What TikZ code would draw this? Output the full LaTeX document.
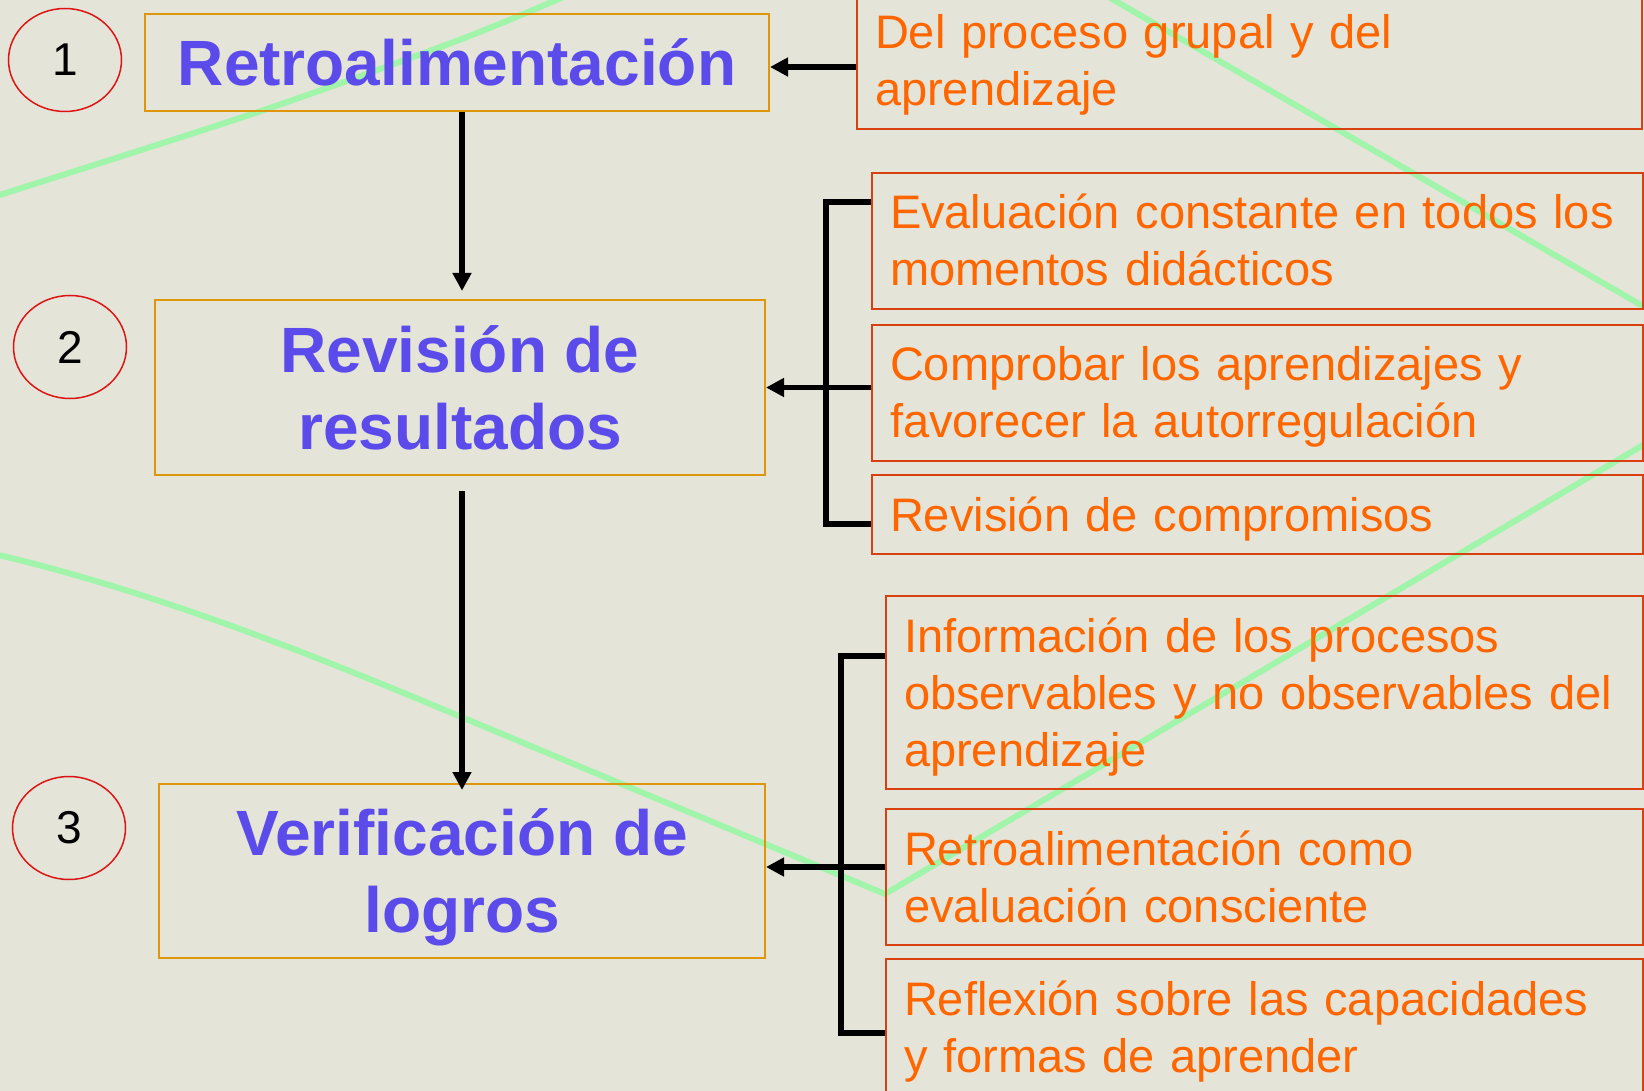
\documentclass[tikz,border=0pt]{standalone}
\usepackage{fontspec}
\setmainfont{Liberation Sans}
\usetikzlibrary{arrows.meta,shapes.geometric}
\definecolor{fondo}{RGB}{228,228,217}
\definecolor{azul}{RGB}{91,75,234}
\definecolor{naranja}{RGB}{255,102,0}
\definecolor{rojizo}{RGB}{217,64,15}
\definecolor{dorado}{RGB}{224,150,10}
\definecolor{verde}{RGB}{160,245,170}
\definecolor{circulo}{RGB}{220,20,20}
\newcommand\alto{\rule{0pt}{46pt}}
\newcommand\arriba{\rule{0pt}{56pt}}
\newcommand\abajo{\rule[-23pt]{0pt}{23pt}}

\begin{document}
\begin{tikzpicture}[x=1pt,y=-1pt,
  trazo/.style={verde,line width=6pt,line cap=round},
  titulo/.style={draw=dorado,line width=2pt,text=azul,inner sep=0pt,align=center,
    font=\fontsize{64}{77}\selectfont\bfseries},
  cuadro/.style={draw=rojizo,line width=2pt,text=naranja,anchor=north west,
    inner xsep=18pt,inner ysep=0pt,align=left,font=\fontsize{47}{57}\selectfont},
  numero/.style={ellipse,draw=circulo,line width=1.5pt,minimum width=113pt,
    minimum height=103pt,inner sep=0pt,font=\fontsize{46}{46}\selectfont},
  flecha/.style={line width=5.5pt,-{Triangle[length=18pt,width=18pt]}},
  corchete/.style={line width=6pt}]
\useasboundingbox (0,0) rectangle (1644,1091);
\fill[fondo] (0,0) rectangle (1644,1091);
\clip (0,0) rectangle (1644,1091);
\draw[trazo] plot[smooth] coordinates {(-10,198) (255,113) (459,40) (575,-8)};
\draw[trazo] (1100,-8) -- (1660,316);
\draw[trazo] (-10,553) .. controls (150,590) and (309,653) .. (459,716) -- (885,894) -- (1660,435);
\node[numero] (n1) at (65,60) {1};
\node[numero] (n2) at (70,347) {2};
\node[numero] (n3) at (69,828) {3};
\node[titulo,minimum width=624pt,minimum height=97pt] (ret) at (457,62.5) {\alto\smash{Retroalimentación}};
\node[titulo,minimum width=610pt,minimum height=175pt] (rev) at (460,387.5) {\alto\smash{Revisión de}\\\smash{resultados}};
\node[titulo,minimum width=606pt,minimum height=174pt] (ver) at (462,871) {\alto\smash{Verificación de}\\\smash{logros}};
\node[cuadro,text width=749pt] (del) at (856,-8) {\arriba Del proceso grupal y del\\aprendizaje\abajo};
\node[cuadro,text width=735pt] (eva) at (871,172) {\arriba Evaluación constante en todos los\\momentos didácticos\abajo};
\node[cuadro,text width=735pt] (com) at (871,324) {\arriba Comprobar los aprendizajes y\\favorecer la autorregulación\abajo};
\node[cuadro,text width=735pt] (rcp) at (871,474) {\arriba Revisión de compromisos\abajo};
\node[cuadro,text width=721pt] (inf) at (885,595) {\arriba Información de los procesos\\observables y no observables del\\aprendizaje\abajo};
\node[cuadro,text width=721pt] (rco) at (885,808) {\arriba Retroalimentación como\\evaluación consciente\abajo};
\node[cuadro,text width=721pt] (ref) at (885,958) {\arriba Reflexión sobre las capacidades\\y formas de aprender\abajo};
\draw[flecha,shorten >=8pt] ([xshift=5pt]ret.south) -- ([xshift=2pt]rev.north);
\draw[flecha,shorten <=15pt,shorten >=-7pt] ([xshift=2pt]rev.south) -- (ver.north);
\draw[flecha] ([yshift=-6pt]del.west) -- ([yshift=-6pt]del.west -| ret.east);
\draw[corchete] (eva.west |- 0,202) -| (826,524) -- (rcp.west |- 0,524);
\draw[flecha] (com.west |- rev.east) -- (rev.east);
\draw[corchete] (inf.west |- 0,656) -| (841,1033) -- (ref.west |- 0,1033);
\draw[flecha] (rco.west |- 0,867) -- (ver.east |- 0,867);
\end{tikzpicture}
\end{document}
